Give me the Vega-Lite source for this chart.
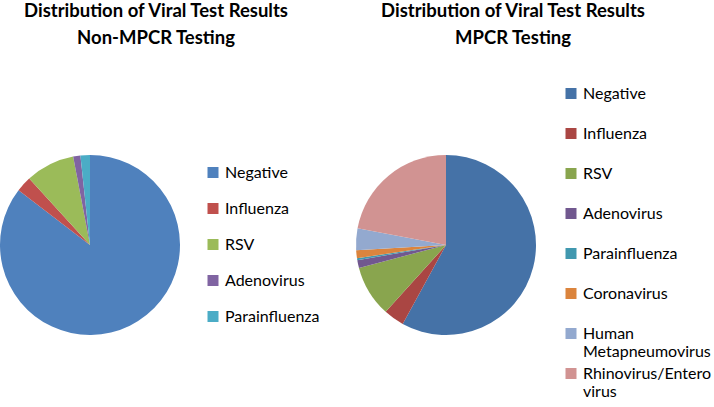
{
  "$schema": "https://vega.github.io/schema/vega-lite/v6.json",
  "padding": {"top": 2, "left": 0, "right": 0, "bottom": 0},
  "spacing": 36,
  "config": {"view": {"stroke": null}, "font": "Lato"},
  "datasets": {
    "nonmpcr": [
      {"result": "Negative", "pct": 85.4, "k": 1},
      {"result": "Influenza", "pct": 2.8, "k": 2},
      {"result": "RSV", "pct": 8.8, "k": 3},
      {"result": "Adenovirus", "pct": 1.3, "k": 4},
      {"result": "Parainfluenza", "pct": 1.7, "k": 5}
    ],
    "mpcr": [
      {"result": "Negative", "pct": 57.9, "k": 1},
      {"result": "Influenza", "pct": 3.7, "k": 2},
      {"result": "RSV", "pct": 9.2, "k": 3},
      {"result": "Adenovirus", "pct": 1.4, "k": 4},
      {"result": "Parainfluenza", "pct": 0.35, "k": 5},
      {"result": "Coronavirus", "pct": 1.4, "k": 6},
      {"result": "Human Metapneumovirus", "pct": 3.9, "k": 7},
      {"result": "Rhinovirus/Enterovirus", "pct": 22.0, "k": 8}
    ]
  },
  "resolve": {"scale": {"color": "independent", "theta": "independent"}},
  "hconcat": [
    {
      "data": {"name": "nonmpcr"},
      "width": 180,
      "height": 326,
      "title": {
        "text": ["Distribution of Viral Test Results", "Non-MPCR Testing"],
        "font": "Lato", "fontSize": 18.5, "fontWeight": "bold", "lineHeight": 27,
        "anchor": "middle", "dx": 66, "offset": 34.5, "color": "#000000"
      },
      "mark": {"type": "arc"},
      "encoding": {
        "theta": {"field": "pct", "type": "quantitative", "stack": true},
        "order": {"field": "k", "type": "quantitative"},
        "color": {
          "field": "result", "type": "nominal",
          "scale": {
            "domain": ["Negative", "Influenza", "RSV", "Adenovirus", "Parainfluenza"],
            "range": ["#4F81BD", "#C0504D", "#9BBB59", "#8064A2", "#4BACC6"]
          },
          "legend": {
            "title": null, "orient": "none", "legendX": 205, "legendY": 82.5,
            "symbolType": "square", "symbolSize": 121, "symbolStrokeWidth": 0,
            "labelFont": "Lato", "labelFontSize": 16, "labelColor": "#000000",
            "rowPadding": 20, "labelOffset": 4, "labelLimit": 300
          }
        }
      }
    },
    {
      "data": {"name": "mpcr"},
      "width": 180,
      "height": 326,
      "title": {
        "text": ["Distribution of Viral Test Results", "MPCR Testing"],
        "font": "Lato", "fontSize": 18.5, "fontWeight": "bold", "lineHeight": 27,
        "anchor": "middle", "dx": 67, "offset": 34.5, "color": "#000000"
      },
      "mark": {"type": "arc"},
      "encoding": {
        "theta": {"field": "pct", "type": "quantitative", "stack": true},
        "order": {"field": "k", "type": "quantitative"},
        "color": {
          "field": "result", "type": "nominal",
          "scale": {
            "domain": ["Negative", "Influenza", "RSV", "Adenovirus", "Parainfluenza", "Coronavirus", "Human Metapneumovirus", "Rhinovirus/Enterovirus"],
            "range": ["#4572A7", "#AA4643", "#89A54E", "#71588F", "#4198AF", "#DB843D", "#93A9CF", "#D19392"]
          },
          "legend": {
            "title": null, "orient": "none", "legendX": 207, "legendY": 3.5,
            "symbolType": "square", "symbolSize": 121, "symbolStrokeWidth": 0,
            "labelFont": "Lato", "labelFontSize": 16, "labelColor": "#000000",
            "labelBaseline": "middle", "labelLineHeight": 20,
            "rowPadding": 6, "labelOffset": 4, "labelLimit": 300,
            "labelExpr": "datum.label == 'Human Metapneumovirus' ? ['Human', 'Metapneumovirus'] : datum.label == 'Rhinovirus/Enterovirus' ? ['Rhinovirus/Entero', 'virus'] : [datum.label, ' ']"
          }
        }
      }
    }
  ]
}
